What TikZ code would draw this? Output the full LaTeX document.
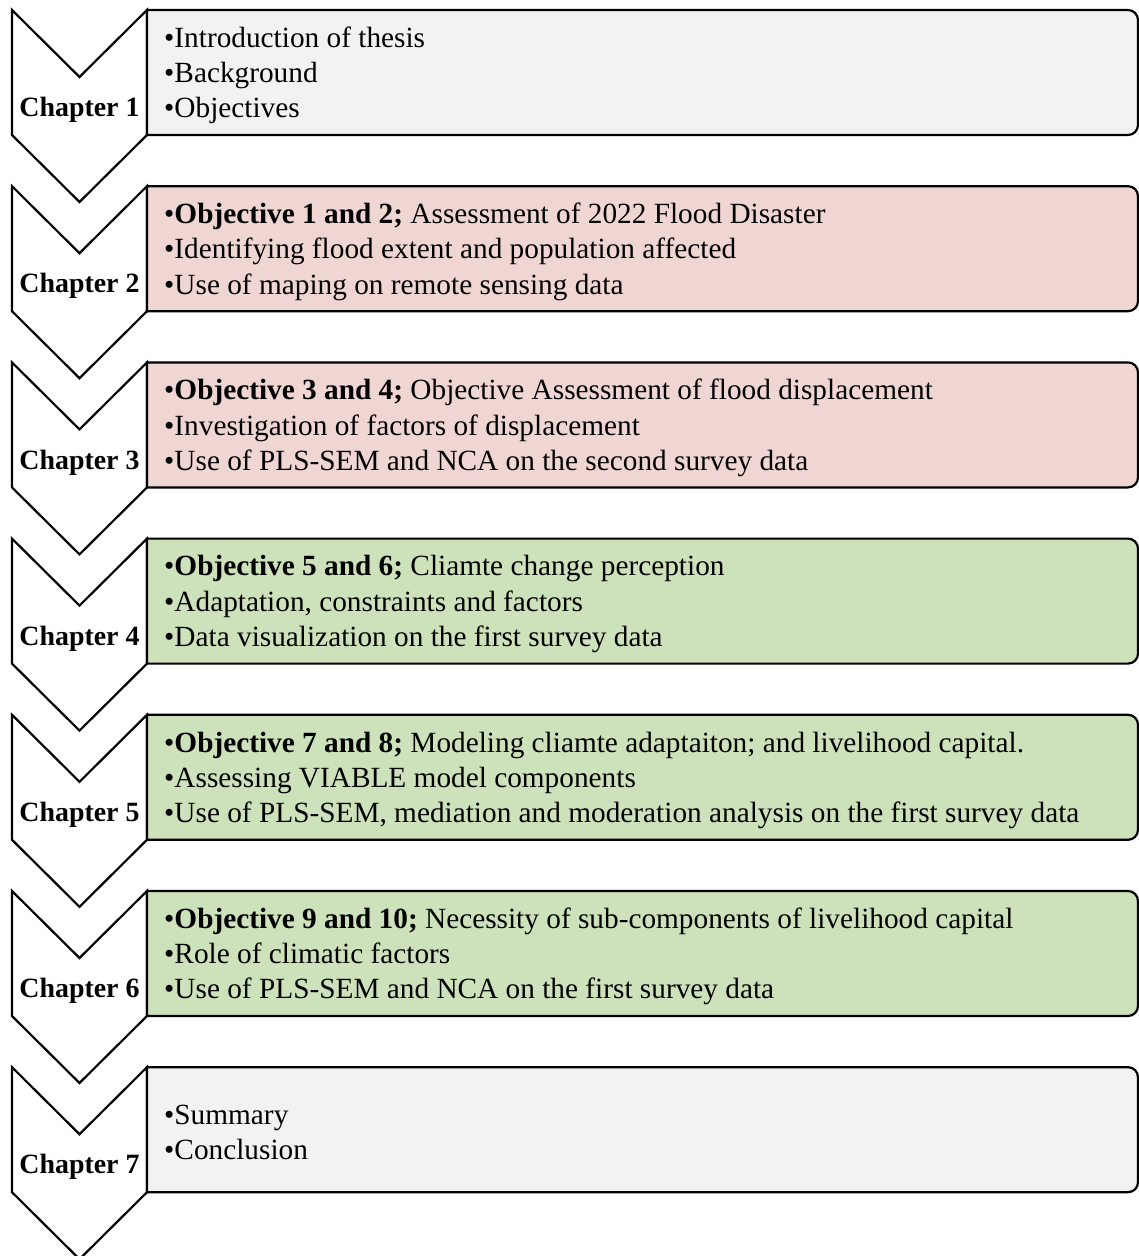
\documentclass[tikz,border=0pt]{standalone}
\usepackage{fontspec}
\setmainfont{Liberation Serif}
\definecolor{panelgray}{HTML}{F2F2F2}
\definecolor{panelpink}{HTML}{F0D6D3}
\definecolor{panelgreen}{HTML}{CDE2BA}
% chevron + panel for one chapter: #1 = top y, #2 = fill, #3 = name
\newcommand{\chapterrow}[3]{%
  \draw[chev] (12,#1) -- (79.5,#1+67) -- (147,#1) -- (147,#1+125)
     -- (79.5,#1+192) -- (12,#1+125) -- cycle;
  \draw[panel, fill=#2] (147,#1) -- (1128,#1) arc (-90:0:10)
     -- (1138,#1+115) arc (0:90:10) -- (147,#1+125) -- cycle;
  \coordinate (#3lab) at (79.5,#1+100);
  \coordinate (#3txt) at (164,#1+65.5);
}
\begin{document}
\begin{tikzpicture}[x=1pt,y=-1pt,
  chev/.style={draw=black, fill=white, line width=2.2pt, line join=miter},
  panel/.style={draw=black, line width=2.2pt},
  chaplabel/.style={font=\fontsize{27.9}{32}\selectfont\bfseries, inner sep=0pt},
  items/.style={anchor=west, align=left, inner sep=0pt,
    font=\fontsize{29.3}{35.3}\selectfont}]
\useasboundingbox (0,0) rectangle (1139,1256);

\chapterrow{10}{panelgray}{c1}
\chapterrow{186.2}{panelpink}{c2}
\chapterrow{362.4}{panelpink}{c3}
\chapterrow{538.6}{panelgreen}{c4}
\chapterrow{714.8}{panelgreen}{c5}
\chapterrow{891}{panelgreen}{c6}
\chapterrow{1067.2}{panelgray}{c7}

\node[chaplabel] (l1) at (c1lab) {Chapter 1};
\node[chaplabel] (l2) at (c2lab) {Chapter 2};
\node[chaplabel] (l3) at (c3lab) {Chapter 3};
\node[chaplabel] (l4) at (c4lab) {Chapter 4};
\node[chaplabel] (l5) at (c5lab) {Chapter 5};
\node[chaplabel] (l6) at (c6lab) {Chapter 6};
\node[chaplabel] (l7) at (c7lab) {Chapter 7};

\node[items] (t1) at (c1txt) {•Introduction of thesis\\•Background\\•Objectives};
\node[items] (t2) at (c2txt) {•\textbf{Objective 1 and 2;} Assessment of 2022 Flood Disaster\\•Identifying flood extent and population affected\\•Use of maping on remote sensing data};
\node[items] (t3) at (c3txt) {•\textbf{Objective 3 and 4;} Objective Assessment of flood displacement\\•Investigation of factors of displacement\\•Use of PLS-SEM and NCA on the second survey data};
\node[items] (t4) at (c4txt) {•\textbf{Objective 5 and 6;} Cliamte change perception\\•Adaptation, constraints and factors\\•Data visualization on the first survey data};
\node[items] (t5) at (c5txt) {•\textbf{Objective 7 and 8;} Modeling cliamte adaptaiton; and livelihood capital.\\•Assessing VIABLE model components\\•Use of PLS-SEM, mediation and moderation analysis on the first survey data};
\node[items] (t6) at (c6txt) {•\textbf{Objective 9 and 10;} Necessity of sub-components of livelihood capital\\•Role of climatic factors\\•Use of PLS-SEM and NCA on the first survey data};
\node[items] (t7) at (c7txt) {•Summary\\•Conclusion};
\end{tikzpicture}
\end{document}
